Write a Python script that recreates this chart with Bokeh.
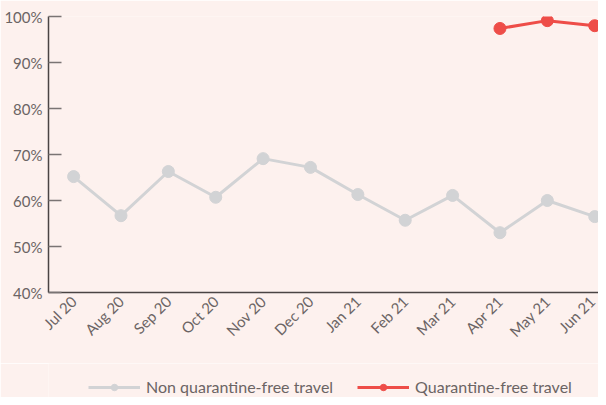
from bokeh.plotting import figure
from bokeh.models import FixedTicker, Legend, LegendItem, ColumnDataSource
from bokeh.layouts import column
from bokeh.embed import file_html
from bokeh.resources import INLINE
import math

months = ["Jul 20", "Aug 20", "Sep 20", "Oct 20", "Nov 20", "Dec 20",
          "Jan 21", "Feb 21", "Mar 21", "Apr 21", "May 21", "Jun 21"]
non_qft = [65.2, 56.7, 66.3, 60.7, 69.1, 67.2, 61.3, 55.7, 61.1, 53.0, 60.0, 56.5]
qft_months = ["Apr 21", "May 21", "Jun 21"]
qft = [97.4, 99.1, 98.0]
y_ticks = [40, 50, 60, 70, 80, 90, 100]
series_names = ["Non quarantine-free travel", "Quarantine-free travel"]

BG = "#fdf1ee"
TXT = "#6b6464"
GREY = "#d2d3d5"
RED = "#ee4d48"
FONT = "Lato"

xi = list(range(len(months)))
qxi = [months.index(m) for m in qft_months]

p = figure(width=598, height=363, output_backend="svg", toolbar_location=None,
           x_range=(-0.53, 11.08), y_range=(40, 100))
p.background_fill_color = BG
p.border_fill_color = BG
p.outline_line_color = None
p.xgrid.visible = False
p.ygrid.visible = False
p.min_border_left = 48
p.min_border_right = 0
p.min_border_top = 16
p.min_border_bottom = 71

src1 = ColumnDataSource(dict(x=xi, y=non_qft))
src2 = ColumnDataSource(dict(x=qxi, y=qft))
p.line("x", "y", source=src1, line_color=GREY, line_width=3)
p.scatter("x", "y", source=src1, size=12, fill_color=GREY, line_color=GREY)
p.line("x", "y", source=src2, line_color=RED, line_width=3)
p.scatter("x", "y", source=src2, size=12, fill_color=RED, line_color=RED)

# y axis
p.yaxis.ticker = FixedTicker(ticks=y_ticks)
p.yaxis.major_label_overrides = {t: f"{t}%" for t in y_ticks}
p.yaxis.major_tick_in = 13
p.yaxis.major_tick_out = 0
p.yaxis.minor_tick_line_color = None
p.yaxis.major_tick_line_color = "#7a7474"
p.yaxis.major_tick_line_width = 1.5
p.yaxis.axis_line_color = "#4a4444"
p.yaxis.axis_line_width = 1.5
p.yaxis.major_label_text_font = FONT
p.yaxis.major_label_text_font_size = "15px"
p.yaxis.major_label_text_color = TXT
p.yaxis.major_label_standoff = 6

# x axis
p.xaxis.ticker = FixedTicker(ticks=xi)
p.xaxis.major_label_overrides = {i: m for i, m in zip(xi, months)}
p.xaxis.major_label_orientation = math.pi / 4
p.xaxis.major_tick_in = 0
p.xaxis.major_tick_out = 0
p.xaxis.minor_tick_line_color = None
p.xaxis.axis_line_color = "#4a4444"
p.xaxis.axis_line_width = 1.5
p.xaxis.major_label_text_font = FONT
p.xaxis.major_label_text_font_size = "15px"
p.xaxis.major_label_text_color = TXT
p.xaxis.major_label_standoff = 6

# legend strip (separate figure so it sits under the axis labels)
lg = figure(width=598, height=34, output_backend="svg", toolbar_location=None,
            x_range=(0, 1), y_range=(0, 1), x_axis_type=None, y_axis_type=None)
lg.background_fill_color = BG
lg.border_fill_color = BG
lg.outline_line_color = None
lg.xgrid.visible = False
lg.ygrid.visible = False
lg.min_border_left = 48
lg.min_border_right = 0
lg.min_border_top = 0
lg.min_border_bottom = 0

nan = float("nan")
e1 = ColumnDataSource(dict(x=[nan], y=[nan]))
e2 = ColumnDataSource(dict(x=[nan], y=[nan]))
r1 = lg.line("x", "y", source=e1, line_color=GREY, line_width=3)
s1 = lg.scatter("x", "y", source=e1, size=12, fill_color=GREY, line_color=GREY)
r2 = lg.line("x", "y", source=e2, line_color=RED, line_width=3)
s2 = lg.scatter("x", "y", source=e2, size=12, fill_color=RED, line_color=RED)

legend = Legend(items=[
    LegendItem(label=series_names[0], renderers=[r1, s1]),
    LegendItem(label=series_names[1], renderers=[r2, s2]),
], orientation="horizontal", location=(40, 1))
legend.background_fill_alpha = 0
legend.border_line_color = None
legend.label_text_font = FONT
legend.label_text_font_size = "16px"
legend.label_text_color = TXT
legend.glyph_width = 52
legend.glyph_height = 16
legend.spacing = 24
legend.label_standoff = 6
legend.margin = 0
legend.padding = 0
lg.add_layout(legend, "center")

layout = column(p, lg, spacing=0)
open("out.html", "w").write(file_html(layout, INLINE))
